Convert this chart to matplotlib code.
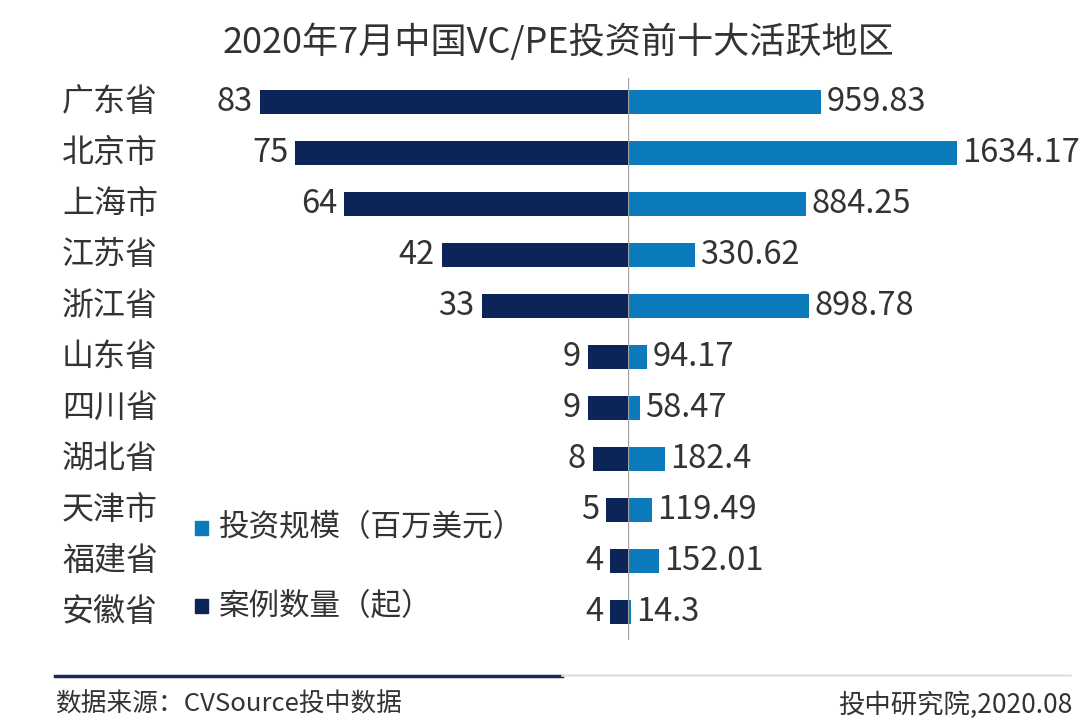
import numpy as np
import matplotlib.pyplot as plt
from matplotlib.lines import Line2D

plt.rcParams['font.family'] = ['Noto Sans CJK SC', 'DejaVu Sans']

regions = ["广东省", "北京市", "上海市", "江苏省", "浙江省", "山东省",
           "四川省", "湖北省", "天津市", "福建省", "安徽省"]
cases = [83, 75, 64, 42, 33, 9, 9, 8, 5, 4, 4]
amount = [959.83, 1634.17, 884.25, 330.62, 898.78, 94.17,
          58.47, 182.4, 119.49, 152.01, 14.3]
amount_labels = ["959.83", "1634.17", "884.25", "330.62", "898.78", "94.17",
                 "58.47", "182.4", "119.49", "152.01", "14.3"]

NAVY = "#0b2559"
BLUE = "#0b7bbb"
TXT = "#333333"

W, H = 1080, 721
fig = plt.figure(figsize=(W / 100, H / 100), dpi=100)

# pixel layout
cx = 628
top_px, bot_px = 78, 640
ax_b = 1 - bot_px / H
ax_h = (bot_px - top_px) / H
left_px = 160

axL = fig.add_axes([left_px / W, ax_b, (cx - left_px) / W, ax_h])
axR = fig.add_axes([cx / W, ax_b, (W - cx) / W, ax_h])

y = np.arange(len(regions))
row_px = 51
ylim = (len(regions) - 1 + 28 / row_px, -24 / row_px)

# left: cases (4.435 px per case)
axL.barh(y, cases, height=0.49, color=NAVY)
axL.set_xlim((cx - left_px) / 4.435, 0)
axL.set_ylim(*ylim)
for yi, v in zip(y, cases):
    axL.annotate(str(v), (v, yi), xytext=(-5, 0), textcoords="offset points",
                 ha="right", va="center", fontsize=23.5, color=TXT)

# right: amount (0.2013 px per million)
axR.barh(y, amount, height=0.49, color=BLUE)
axR.set_xlim(0, (W - cx) / 0.2013)
axR.set_ylim(*ylim)
for yi, v, s in zip(y, amount, amount_labels):
    axR.annotate(s, (v, yi), xytext=(4, 0), textcoords="offset points",
                 ha="left", va="center", fontsize=23.5, color=TXT)
axR.axvline(0, color="#a0a0a0", lw=0.9)

for ax in (axL, axR):
    ax.set_xticks([])
    ax.set_yticks([])
    for sp in ax.spines.values():
        sp.set_visible(False)

# category labels
for yi, name in zip(y, regions):
    fig.text(62 / W, 1 - (102 + yi * row_px) / H, name, ha="left", va="center",
             fontsize=23, color=TXT)

# title
fig.text(558 / W, 1 - 42 / H, "2020年7月中国VC/PE投资前十大活跃地区",
         ha="center", va="center", fontsize=26, color=TXT)

# legend
for ypx, col, lab in [(528, BLUE, "投资规模（百万美元）"), (606, NAVY, "案例数量（起）")]:
    fig.patches.append(plt.Rectangle((195 / W, 1 - (ypx + 7) / H), 13 / W, 14 / H,
                                     transform=fig.transFigure, color=col))
    fig.text(219 / W, 1 - ypx / H, lab, ha="left", va="center", fontsize=22, color=TXT)

# footer lines
fig.add_artist(Line2D([55 / W, 562 / W], [1 - 676 / H] * 2, color="#1c2a55", lw=2.5,
                      transform=fig.transFigure))
fig.add_artist(Line2D([562 / W, 1070 / W], [1 - 675 / H] * 2, color="#e3e3e3", lw=1.8,
                      transform=fig.transFigure))
fig.text(55 / W, 1 - 705 / H, "数据来源：CVSource投中数据", ha="left", va="center",
         fontsize=18.5, color=TXT)
fig.text(1072 / W, 1 - 705 / H, "投中研究院,2020.08", ha="right", va="center",
         fontsize=19, color=TXT)

fig.savefig("out.png", dpi=100, facecolor="white")
